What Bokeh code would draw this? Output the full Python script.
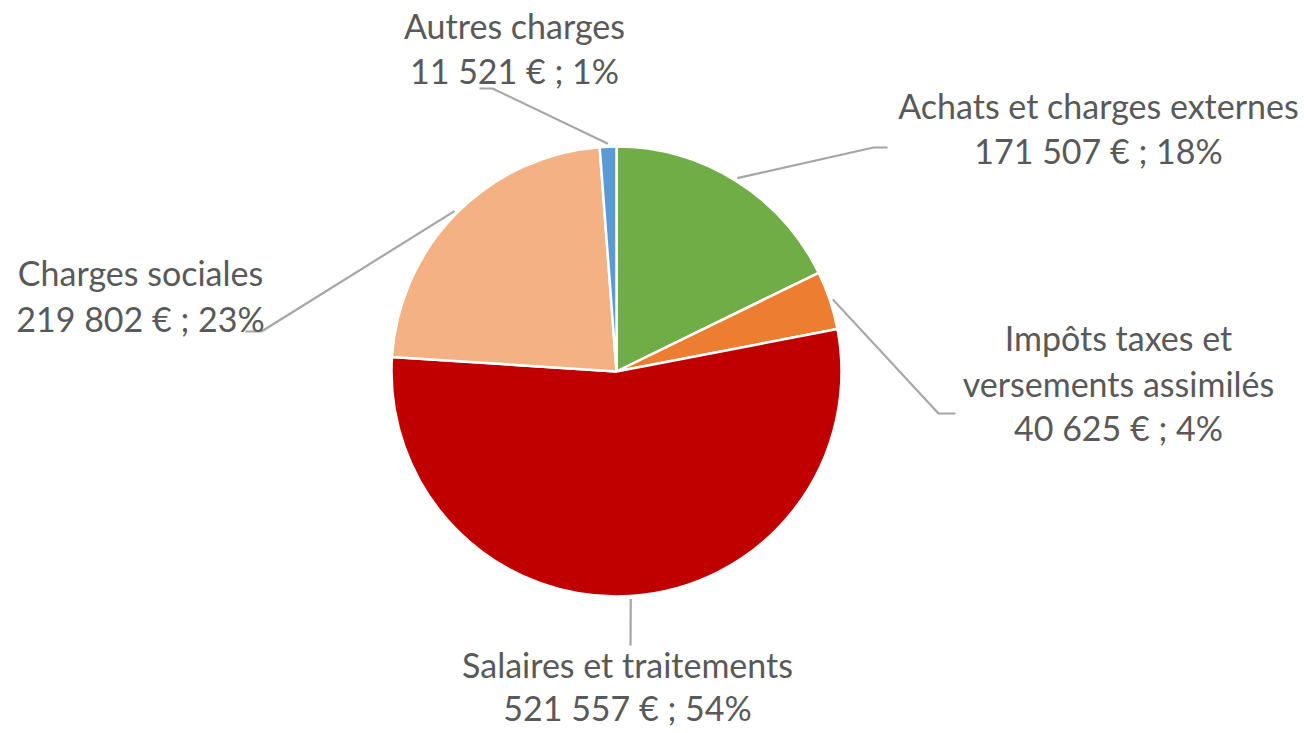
import math
from bokeh.plotting import figure
from bokeh.models import Range1d, ColumnDataSource
from bokeh.embed import file_html
from bokeh.resources import INLINE
from bokeh.core.properties import value

# ---- data ----
categories = ["Achats et charges externes", "Impôts taxes et versements assimilés",
              "Salaires et traitements", "Charges sociales", "Autres charges"]
amounts = [171507, 40625, 521557, 219802, 11521]
colors = ["#70AD47", "#ED7D31", "#C00000", "#F4B183", "#5B9BD5"]

# ---- layout (image pixel coordinates) ----
W, H = 1304, 733
IMG_H = 733
CX, CY_IMG, R = 616, 371, 225
label_lines_name = [["Achats et charges externes"],
                    ["Impôts taxes et", "versements assimilés"],
                    ["Salaires et traitements"],
                    ["Charges sociales"],
                    ["Autres charges"]]
label_x = [1098, 1118, 627, 140, 514]
label_y = [[105, 150], [337, 383, 427], [664, 707], [272, 318], [25, 70]]
elbow = [(873, 147), (938, 413), (630, 645), (261, 331), (492, 88)]
lend = [(887, 147), (955, 413), (630, 645), (245, 331), (479, 88)]
FONT = "Lato"
FSIZE = "34px"
TEXT_COLOR = "#595959"
LINE_COLOR = "#A6A6A6"


def Y(yi):
    return IMG_H - yi


p = figure(width=W, height=H, x_range=Range1d(0, W), y_range=Range1d(IMG_H - H, IMG_H),
           output_backend="svg", toolbar_location=None, min_border=0,
           x_axis_location=None, y_axis_location=None)
p.grid.visible = False
p.outline_line_color = None
p.background_fill_color = "white"

total = float(sum(amounts))
fracs = [a / total for a in amounts]
starts, ends, mids = [], [], []
cum = 0.0
for f in fracs:
    starts.append(math.pi / 2 - cum * 2 * math.pi)
    mids.append(math.pi / 2 - (cum + f / 2) * 2 * math.pi)
    cum += f
    ends.append(math.pi / 2 - cum * 2 * math.pi)

src = ColumnDataSource(dict(x=[CX] * len(amounts), y=[Y(CY_IMG)] * len(amounts),
                            start=starts, end=ends, color=colors, cat=categories))
p.wedge(x="x", y="y", radius=R, start_angle="start", end_angle="end", direction="clock",
        fill_color="color", line_color="white", line_width=2.5, source=src)

# leader lines
xs, ys = [], []
for i, m in enumerate(mids):
    sx = CX + (R + 3) * math.cos(m)
    sy = Y(CY_IMG) + (R + 3) * math.sin(m)
    xs.append([sx, elbow[i][0], lend[i][0]])
    ys.append([sy, Y(elbow[i][1]), Y(lend[i][1])])
p.multi_line(xs=xs, ys=ys, line_color=LINE_COLOR, line_width=2.2)

# labels
tx, ty, tt = [], [], []
for i, a in enumerate(amounts):
    pct = round(a / total * 100)
    val = f"{a:,}".replace(",", " ") + " € ; " + f"{pct}%"
    lines = label_lines_name[i] + [val]
    for j, line in enumerate(lines):
        tx.append(label_x[i])
        ty.append(Y(label_y[i][j]))
        tt.append(line)
p.text(x=tx, y=ty, text=tt, text_font=value(FONT), text_font_size=FSIZE,
       text_color=TEXT_COLOR, text_align="center", text_baseline="middle")

open("out.html", "w").write(file_html(p, INLINE))
